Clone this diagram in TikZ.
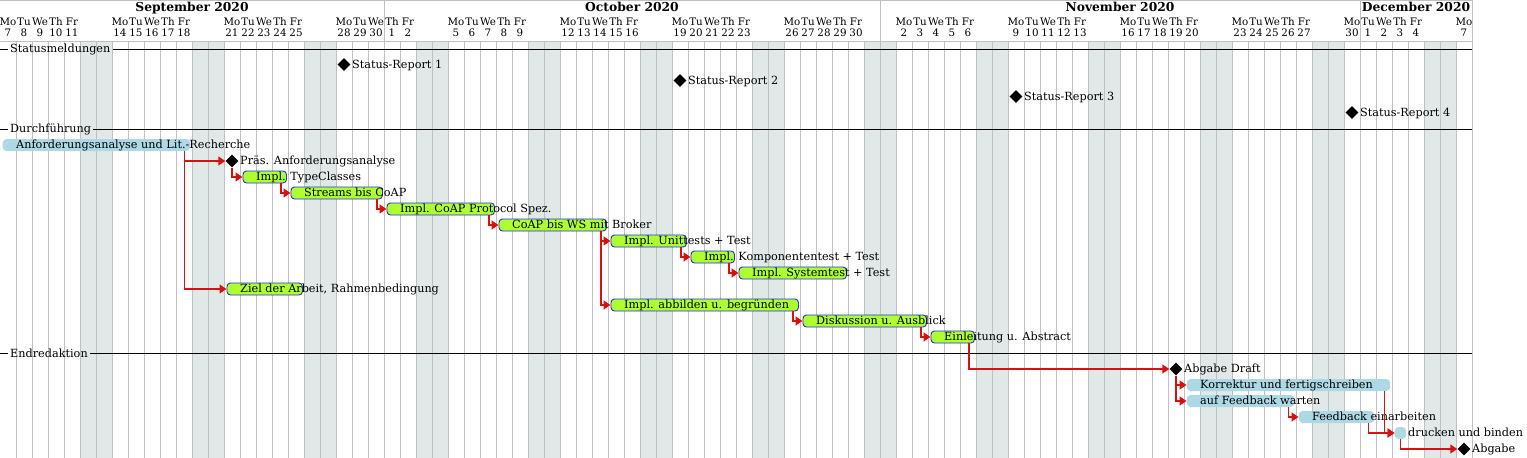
\documentclass[tikz,border=0pt]{standalone}
\usepackage{fontspec}
\setmainfont{DejaVu Serif}
\usetikzlibrary{shapes.geometric,arrows.meta}
\definecolor{gridc}{HTML}{C0C0C0}
\definecolor{wkend}{HTML}{E0E8E8}
\definecolor{gbar}{HTML}{ADFF2F}
\definecolor{bbar}{HTML}{ADD8E6}
\definecolor{bborder}{HTML}{2030F0}
\definecolor{depc}{HTML}{D81010}
\tikzset{
  greenbar/.style={draw=bborder, fill=gbar, line width=0.9pt, rounded corners=3.5pt, minimum height=12pt, inner sep=0pt, anchor=west},
  bluebar/.style={fill=bbar, rounded corners=4pt, minimum height=12pt, inner sep=0pt, anchor=west},
  mile/.style={diamond, fill=black, minimum width=13pt, minimum height=13pt, inner sep=0pt},
  lbl/.style={anchor=base west, inner sep=0pt, font=\fontsize{11.25}{13}\selectfont},
  sect/.style={anchor=west, inner xsep=2pt, inner ysep=0pt, font=\fontsize{11.25}{13}\selectfont},
  depar/.style={draw=depc, line width=1.4pt, -{Triangle[length=7pt,width=9pt]}},
  gridln/.style={draw=gridc, line width=1pt},
  sepln/.style={draw=black, line width=1pt},
  hdr/.style={anchor=base, inner sep=0pt, font=\fontsize{10.3}{12}\selectfont},
  month/.style={anchor=base, inner sep=0pt, font=\fontsize{12.3}{14}\selectfont\bfseries}
}
% name, style, start, end, row y, label
\newcommand\mytask[6]{%
  \pgfmathsetmacro\xa{#3*16+2.5}%
  \pgfmathsetmacro\tw{(#4-#3+1)*16-4.5}%
  \node[#2, minimum width=\tw pt] (#1) at (\xa,#5) {};
  \node[lbl] (#1l) at ({(#3+1)*16},#5+3.6) {#6};}
% name, day, row y, label
\newcommand\mymile[4]{%
  \node[mile] (#1) at ({#2*16+8},#3) {};
  \node[lbl] (#1l) at ({(#2+1)*16},#3+3.6) {#4};}
\begin{document}
\begin{tikzpicture}[x=1pt,y=-1pt]
\useasboundingbox (0,0) rectangle (1527,458);
\fill[white] (0,0) rectangle (1527,458);
% weekends
\foreach \w in {0,...,12}{
  \fill[wkend] ({(5+7*\w)*16},41) rectangle ({(7+7*\w)*16},458);
}
% day grid
\foreach \k in {1,...,91}{
  \draw[gridln] (\k*16,41) -- (\k*16,458);
}
% header frame
\draw[gridln] (0,0.5) -- (1472,0.5);
\draw[gridln] (0,41) -- (1472,41);
\draw[gridln] (1472,0) -- (1472,458);
\draw[gridln] (384,0) -- (384,41);
\draw[gridln] (880,0) -- (880,41);
\draw[gridln] (1360,0) -- (1360,41);
% months
\node[month] (mSep) at (192,11.3) {September 2020};
\node[month] (mOct) at (632,11.3) {October 2020};
\node[month] (mNov) at (1120,11.3) {November 2020};
\node[month] (mDec) at (1416,11.3) {December 2020};
% day names and numbers
\foreach \i in {0,...,91}{
  \pgfmathtruncatemacro\wdn{mod(\i,7)}
  \ifnum\wdn<5
    \ifnum\i<24 \pgfmathtruncatemacro\dn{\i+7}\else
    \ifnum\i<55 \pgfmathtruncatemacro\dn{\i-23}\else
    \ifnum\i<85 \pgfmathtruncatemacro\dn{\i-54}\else
    \pgfmathtruncatemacro\dn{\i-84}\fi\fi\fi
    \node[hdr] (dn\i) at (\i*16+8,25.3) {\ifcase\wdn Mo\or Tu\or We\or Th\or Fr\fi};
    \node[hdr] (dd\i) at (\i*16+8,36.7) {\dn};
  \fi
}
% section separators
\coordinate (s1a) at (0,49.3);
\coordinate (s1b) at (1472,49.3);
\node[sect] (s1) at (8,49.3) {Statusmeldungen};
\draw[sepln] (s1a) -- (s1.west);
\draw[sepln] (s1.east) -- (s1b);
\coordinate (s2a) at (0,129);
\coordinate (s2b) at (1472,129);
\node[sect] (s2) at (8,129) {Durchführung};
\draw[sepln] (s2a) -- (s2.west);
\draw[sepln] (s2.east) -- (s2b);
\coordinate (s3a) at (0,353);
\coordinate (s3b) at (1472,353);
\node[sect] (s3) at (8,353) {Endredaktion};
\draw[sepln] (s3a) -- (s3.west);
\draw[sepln] (s3.east) -- (s3b);
% status reports
\mymile{sr1}{21}{64.5}{Status-Report 1}
\mymile{sr2}{42}{80.5}{Status-Report 2}
\mymile{sr3}{63}{96.5}{Status-Report 3}
\mymile{sr4}{84}{112.5}{Status-Report 4}
% Durchfuehrung
\mytask{t1}{bluebar}{0}{11}{145}{Anforderungsanalyse und Lit.-Recherche}
\mymile{m2}{14}{161}{Präs. Anforderungsanalyse}
\mytask{t3}{greenbar}{15}{17}{177}{Impl. TypeClasses}
\mytask{t4}{greenbar}{18}{23}{193}{Streams bis CoAP}
\mytask{t5}{greenbar}{24}{30}{209}{Impl. CoAP Protocol Spez.}
\mytask{t6}{greenbar}{31}{37}{225}{CoAP bis WS mit Broker}
\mytask{t7}{greenbar}{38}{42}{241}{Impl. Unittests + Test}
\mytask{t8}{greenbar}{43}{45}{257}{Impl. Komponententest + Test}
\mytask{t9}{greenbar}{46}{52}{273}{Impl. Systemtest + Test}
\mytask{t10}{greenbar}{14}{18}{289}{Ziel der Arbeit, Rahmenbedingung}
\mytask{t11}{greenbar}{38}{49}{305}{Impl. abbilden u. begründen}
\mytask{t12}{greenbar}{50}{57}{321}{Diskussion u. Ausblick}
\mytask{t13}{greenbar}{58}{60}{337}{Einleitung u. Abstract}
% Endredaktion
\mymile{m14}{73}{369}{Abgabe Draft}
\mytask{t15}{bluebar}{74}{86}{385}{Korrektur und fertigschreiben}
\mytask{t16}{bluebar}{74}{80}{401}{auf Feedback warten}
\mytask{t17}{bluebar}{81}{85}{417}{Feedback einarbeiten}
\mytask{t18}{bluebar}{87}{87}{433}{drucken und binden}
\mymile{m19}{91}{449}{Abgabe}
% dependencies
\draw[depar] ([xshift=-6pt]t1.south east) |- (m2.west);
\draw[depar] ([xshift=-6pt]t1.south east) |- (t10.west);
\draw[depar] (m2.south) |- (t3.west);
\draw[depar] ([xshift=-6pt]t3.south east) |- (t4.west);
\draw[depar] ([xshift=-6pt]t4.south east) |- (t5.west);
\draw[depar] ([xshift=-6pt]t5.south east) |- (t6.west);
\draw[depar] ([xshift=-6pt]t6.south east) |- (t7.west);
\draw[depar] ([xshift=-6pt]t6.south east) |- (t11.west);
\draw[depar] ([xshift=-6pt]t7.south east) |- (t8.west);
\draw[depar] ([xshift=-6pt]t8.south east) |- (t9.west);
\draw[depar] ([xshift=-6pt]t11.south east) |- (t12.west);
\draw[depar] ([xshift=-6pt]t12.south east) |- (t13.west);
\draw[depar] ([xshift=-6pt]t13.south east) |- (m14.west);
\draw[depar] (m14.south) |- (t15.west);
\draw[depar] (m14.south) |- (t16.west);
\draw[depar] ([xshift=-6pt]t16.south east) |- (t17.west);
\draw[depar] ([xshift=-6pt]t17.south east) |- (t18.west);
\draw[depar] ([xshift=-6pt]t15.south east) |- (t18.west);
\draw[depar] ([xshift=-6pt]t18.south east) |- (m19.west);
\end{tikzpicture}
\end{document}
